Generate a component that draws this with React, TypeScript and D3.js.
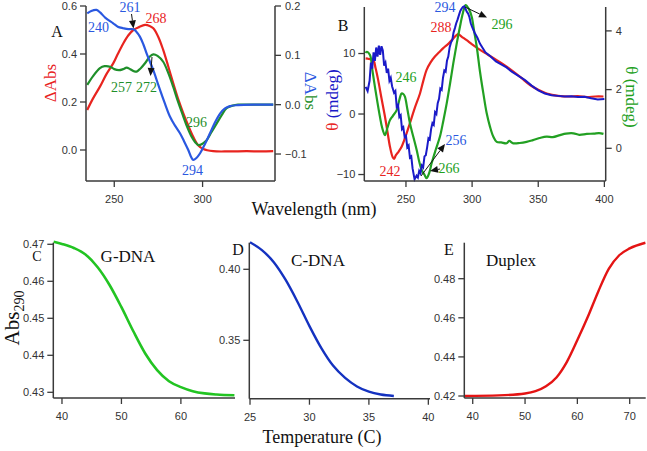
import React from "react";
import * as d3 from "d3";

// ---------- Panel A data (wavelength nm) ----------
const aRed: [number, number][] = [
  [234.7, 0.167], [238, 0.215], [241.9, 0.264], [245.5, 0.315], [249.4, 0.361], [252, 0.4],
  [255.1, 0.444], [258, 0.478], [260.8, 0.5], [264, 0.512], [267.4, 0.521], [270, 0.517],
  [272.1, 0.507], [275, 0.47], [277.7, 0.417], [280.5, 0.35], [283.4, 0.278], [286.3, 0.21],
  [289.1, 0.153], [292, 0.1], [294.7, 0.055], [297.5, 0.02], [300.4, 0.004], [306, -0.005],
  [315, -0.006], [325, -0.005], [333, -0.006], [340, -0.005],
];
const aBlue: [number, number][] = [
  [234.7, 0.185], [237, 0.19], [240, 0.192], [242, 0.187], [245, 0.176], [249.4, 0.165],
  [252, 0.158], [255.1, 0.155], [258, 0.153], [260.8, 0.153], [262.5, 0.148], [264.5, 0.138],
  [266.5, 0.122], [268.3, 0.104], [270.2, 0.087], [272.1, 0.07], [274, 0.05], [275.9, 0.03],
  [278.7, 0.002], [281.5, -0.024], [284.3, -0.042], [287.2, -0.058], [289.5, -0.074], [291.9, -0.092],
  [293.5, -0.106], [294.7, -0.112], [296.5, -0.108], [298.5, -0.099], [301.3, -0.08], [304.2, -0.058],
  [307, -0.036], [309.9, -0.018], [312.5, -0.008], [315.5, -0.003], [320, -0.001], [330, 0.0], [340, 0.0],
];
const aGreen: [number, number][] = [
  [234.7, 0.04], [238, 0.058], [241.9, 0.074], [244.5, 0.078], [247.6, 0.077], [250, 0.072],
  [252.7, 0.07], [255, 0.072], [257, 0.075], [259, 0.072], [261, 0.068], [262.7, 0.067],
  [265, 0.074], [267.4, 0.084], [270, 0.097], [272.1, 0.102], [274.5, 0.099], [277.7, 0.087],
  [280.5, 0.065], [283.4, 0.036], [286.2, 0.005], [289.1, -0.024], [291.5, -0.047], [293.8, -0.065],
  [295.8, -0.076], [297.6, -0.082], [300, -0.079], [302.3, -0.072], [305, -0.056], [308, -0.038],
  [311, -0.02], [313.6, -0.007], [317, -0.002], [320, 0.0], [330, 0.0], [340, 0.0],
];

// ---------- Panel B data ----------
const bRed: [number, number][] = [
  [219.5, 9.2], [222, 9.1], [225.3, 8.9], [227, 7.6], [229, 5.6], [231.5, 2.6], [234.1, -0.4],
  [236, -2.9], [237.9, -5.4], [239.9, -7.1], [241, -7.4], [242.4, -6.8], [244.5, -6.2],
  [246.7, -5.4], [250, -3.5], [253, -1.5], [256.5, 0.9], [260.6, 3.4], [263, 5.4], [265.6, 7.3],
  [268.5, 8.5], [271.9, 9.5], [275, 10.2], [278.2, 10.9], [282, 11.6], [285.8, 12.5],
  [288, 13.0], [289.6, 13.2], [292, 12.8], [295.9, 12.2], [300, 11.5], [306, 10.6], [312, 9.8],
  [318.6, 8.9], [325, 8.0], [331.2, 7.0], [337, 6.0], [343.8, 4.8], [350, 4.0], [356.4, 3.4],
  [365, 3.0], [374, 2.9], [380, 2.95], [387, 2.8], [393, 2.9], [399.3, 2.9],
];
const bBlue: [number, number][] = [
  [219.5, 4.5], [221, 3.8], [222.5, 5.5], [223.5, 8.5], [224.5, 7.5], [225.5, 10.2], [226.5, 8.8],
  [227.5, 11.0], [228.5, 9.5], [229.5, 11.3], [230.5, 9.8], [231.5, 11.2], [232.5, 10.5],
  [233.5, 8.0], [234.5, 8.5], [235.5, 6.8], [236.5, 7.5], [237.5, 5.5], [238.5, 6.0], [239.5, 4.6],
  [241, 3.5], [242, 3.8], [243, 1.2], [244, 1.5], [245, -0.5], [246, -0.2], [247, -2.5], [248, -2.2],
  [249, -3.8], [250, -3.6], [251, -5.5], [252, -5.2], [253, -7.2], [254, -7.0], [255, -9.0],
  [256.5, -10.8], [258, -10.2], [259, -10.5], [260, -9.4], [261, -9.8], [262, -8.5], [263, -8.8],
  [264, -7.0], [265, -6.8], [266, -5.5], [267, -4.0], [268, -4.2], [269, -2.5], [270, -1.5],
  [271, -1.8], [272, 0.3], [273, 0.0], [274, 1.8], [275, 2.5], [276, 4.2], [277, 4.0], [278, 6.0],
  [279, 7.2], [280, 7.0], [281, 8.8], [282, 9.5], [283, 11.0], [284, 11.8], [285, 12.2], [286, 13.5],
  [287, 14.2], [288, 15.0], [289, 15.6], [290, 16.3], [291, 17.0], [292, 17.4], [293, 17.7],
  [294, 17.8], [295, 17.4], [296, 16.9], [297, 16.6], [298, 16.0], [299, 15.0], [300, 14.4],
  [302, 13.4], [304, 12.6], [306, 11.6], [308, 10.9], [310, 10.2], [314, 9.5], [318, 8.7],
  [322, 8.2], [326, 7.7], [330, 7.0], [335, 6.3], [340, 5.6], [345, 4.7], [350, 3.9], [355, 3.4],
  [360, 3.1], [365, 3.0], [370, 2.9], [375, 2.95], [380, 2.8], [385, 2.85], [390, 2.6], [395, 2.4],
  [400, 2.5],
];
const bGreen: [number, number][] = [
  [219.5, 3.25], [220.3, 3.29], [222.8, 3.18], [224.5, 2.7], [226.5, 2.1], [228.5, 1.55],
  [230.3, 1.08], [232, 0.7], [234.1, 0.45], [236, 0.7], [237.9, 0.96], [240, 1.1], [243, 1.3],
  [245, 1.65], [246.7, 1.87], [248, 1.85], [249.2, 1.76], [251, 1.35], [253, 0.85], [255.5, 0.4],
  [258.1, -0.06], [260, -0.45], [261.9, -0.74], [264, -0.9], [265.6, -1.02], [267.5, -0.85],
  [269.4, -0.51], [272.5, -0.05], [275.7, 0.4], [278.3, 0.95], [280.8, 1.53], [283.3, 2.2],
  [285.8, 2.9], [288.3, 3.55], [290.8, 4.14], [293, 4.6], [295.1, 4.88], [297.5, 4.75],
  [299.7, 4.48], [301.5, 4.0], [303.5, 3.46], [306, 2.6], [308.5, 1.87], [311, 1.2],
  [313.5, 0.74], [316, 0.4], [318.6, 0.22], [322, 0.2], [326.1, 0.17], [328, 0.25], [331.2, 0.17],
  [336, 0.18], [341.2, 0.22], [346, 0.28], [351, 0.35], [356.4, 0.4], [361, 0.38], [366.5, 0.45],
  [371, 0.5], [376.6, 0.51], [381, 0.46], [386.7, 0.49], [392, 0.5], [396, 0.52], [399.3, 0.49],
];

// ---------- Melting curves (temperature C) ----------
const cGDNA: [number, number][] = [
  [38.6, 0.4707], [40, 0.4701], [42, 0.4690], [44, 0.4672], [46, 0.4638], [48, 0.4590],
  [50, 0.4530], [52, 0.4465], [54, 0.4405], [56, 0.4360], [58, 0.4330], [60, 0.4314],
  [62, 0.4303], [64, 0.4297], [66, 0.4294], [69, 0.4292],
];
const dCDNA: [number, number][] = [
  [25, 0.419], [26, 0.4135], [27, 0.4050], [28, 0.3925], [29, 0.3770], [30, 0.3600],
  [31, 0.3445], [32, 0.3320], [33, 0.3235], [34, 0.3175], [35, 0.3138], [36, 0.3118], [37.1, 0.3108],
];
const eDuplex: [number, number][] = [
  [38.5, 0.4200], [45, 0.4203], [50, 0.4213], [52, 0.4225], [54, 0.4250], [56, 0.4295],
  [58, 0.4375], [60, 0.4486], [62, 0.4605], [64, 0.4735], [66, 0.4850], [68, 0.4920],
  [70, 0.4955], [73, 0.4984],
];

// ---------- Tick values ----------
const aLeftTicks = [0.0, 0.2, 0.4, 0.6];
const aRightTicks = [-0.1, 0.0, 0.1, 0.2];
const aXTicks = [250, 300];
const bLeftTicks = [-10, 0, 10];
const bRightTicks = [0, 2, 4];
const bXTicks = [250, 300, 350, 400];
const cYTicks = [0.43, 0.44, 0.45, 0.46, 0.47];
const cXTicks = [40, 50, 60];
const dYTicks = [0.35, 0.40];
const dXTicks = [25, 30, 35, 40];
const eYTicks = [0.42, 0.44, 0.46, 0.48];
const eXTicks = [40, 50, 60, 70];

const AX = "#3a3a3a";
const TICKF = "'Liberation Sans', Arial, sans-serif";
const SERIF = "'Liberation Serif', 'Times New Roman', serif";
const RED = "#e8241f";
const BLUE_A = "#2a58e0";
const GREEN_A = "#1f8f2a";
const BLUE_B = "#1a1ac8";
const GREEN_B = "#22a022";

type S = d3.ScaleLinear<number, number>;

function LeftAxis({ x, y, ticks, fmt }: { x: number; y: S; ticks: number[]; fmt: (v: number) => string }) {
  const [r0, r1] = y.range();
  return (
    <g>
      <line x1={x} x2={x} y1={r0} y2={r1} stroke={AX} strokeWidth={1.5} />
      {ticks.map((t) => (
        <g key={t}>
          <line x1={x - 6} x2={x} y1={y(t)} y2={y(t)} stroke={AX} strokeWidth={1.3} />
          <text x={x - 9} y={y(t)} dy="0.35em" textAnchor="end" fontSize={11} fontFamily={TICKF} fill="#333">
            {fmt(t)}
          </text>
        </g>
      ))}
    </g>
  );
}
function RightAxis({ x, y, ticks, fmt }: { x: number; y: S; ticks: number[]; fmt: (v: number) => string }) {
  const [r0, r1] = y.range();
  return (
    <g>
      <line x1={x} x2={x} y1={r0} y2={r1} stroke={AX} strokeWidth={1.5} />
      {ticks.map((t) => (
        <g key={t}>
          <line x1={x} x2={x + 6} y1={y(t)} y2={y(t)} stroke={AX} strokeWidth={1.3} />
          <text x={x + 10} y={y(t)} dy="0.35em" textAnchor="start" fontSize={11} fontFamily={TICKF} fill="#333">
            {fmt(t)}
          </text>
        </g>
      ))}
    </g>
  );
}
function BottomAxis({ y, x, ticks }: { y: number; x: S; ticks: number[] }) {
  const [r0, r1] = x.range();
  return (
    <g>
      <line x1={r0} x2={r1} y1={y} y2={y} stroke={AX} strokeWidth={1.5} />
      {ticks.map((t) => (
        <g key={t}>
          <line x1={x(t)} x2={x(t)} y1={y} y2={y + 6} stroke={AX} strokeWidth={1.3} />
          <text x={x(t)} y={y + 18} dy="0.35em" textAnchor="middle" fontSize={11} fontFamily={TICKF} fill="#333">
            {t}
          </text>
        </g>
      ))}
    </g>
  );
}

function path(data: [number, number][], x: S, y: S, curve: d3.CurveFactory = d3.curveCatmullRom) {
  return d3
    .line<[number, number]>()
    .x((d) => x(d[0]))
    .y((d) => y(d[1]))
    .curve(curve)(data) || "";
}

function Arrow({ x1, y1, x2, y2 }: { x1: number; y1: number; x2: number; y2: number }) {
  const ang = Math.atan2(y2 - y1, x2 - x1);
  const L = 8, W = 3.5;
  const bx = x2 - L * Math.cos(ang), by = y2 - L * Math.sin(ang);
  const px = -Math.sin(ang) * W, py = Math.cos(ang) * W;
  return (
    <g>
      <line x1={x1} y1={y1} x2={bx} y2={by} stroke="#111" strokeWidth={1} />
      <polygon points={`${x2},${y2} ${bx + px},${by + py} ${bx - px},${by - py}`} fill="#111" />
    </g>
  );
}

function Ann({ x, y, c, t }: { x: number; y: number; c: string; t: string }) {
  return (
    <text x={x} y={y} dy="0.35em" textAnchor="middle" fontSize={14} fontFamily={SERIF} fill={c}>
      {t}
    </text>
  );
}

export default function App() {
  const fmt1 = d3.format(".1f");
  const fmt2 = d3.format(".2f");
  const fmt0 = d3.format("d");

  // Panel A
  const axA = d3.scaleLinear().domain([234, 341]).range([86, 275]);
  const ayL = d3.scaleLinear().domain([-0.1292, 0.6]).range([181, 6]);
  const ayR = d3.scaleLinear().domain([-0.1547, 0.2]).range([181, 6]);
  // Panel B
  const bx = d3.scaleLinear().domain([218.5, 401]).range([364.3, 605.7]);
  const byL = d3.scaleLinear().domain([-11.07, 17.69]).range([181, 7]);
  const byR = d3.scaleLinear().domain([-1.114, 4.814]).range([181, 7]);
  // Panel C
  const cx = d3.scaleLinear().domain([38.54, 69.1]).range([53.3, 235]);
  const cy = d3.scaleLinear().domain([0.42846, 0.47043]).range([398, 242.7]);
  // Panel D
  const dx = d3.scaleLinear().domain([24.94, 40.14]).range([249.3, 430]);
  const dy = d3.scaleLinear().domain([0.30887, 0.41873]).range([398.7, 242.7]);
  // Panel E
  const ex = d3.scaleLinear().domain([38.39, 73.06]).range([464.3, 645.7]);
  const ey = d3.scaleLinear().domain([0.41898, 0.49841]).range([398, 242.7]);

  return (
    <svg width={647} height={451} style={{ position: "absolute", left: 0, top: 0, background: "#fff" }}>
      <rect width={647} height={451} fill="#fff" />

      {/* ===== Panel A ===== */}
      <path d={path(aRed, axA, ayL)} fill="none" stroke={RED} strokeWidth={2.2} />
      <path d={path(aGreen, axA, ayR)} fill="none" stroke={GREEN_A} strokeWidth={2.2} />
      <path d={path(aBlue, axA, ayR)} fill="none" stroke={BLUE_A} strokeWidth={2.2} />
      <LeftAxis x={86} y={ayL} ticks={aLeftTicks} fmt={fmt1} />
      <RightAxis x={275} y={ayR} ticks={aRightTicks} fmt={fmt1} />
      <BottomAxis y={181} x={axA} ticks={aXTicks} />
      <text x={57} y={31} dy="0.35em" textAnchor="middle" fontSize={16} fontFamily={SERIF} fill="#111">A</text>
      <text transform="translate(56,83) rotate(-90)" textAnchor="middle" fontSize={17} fontFamily={SERIF} fill={RED}>ΔAbs</text>
      <text transform="translate(305,91) rotate(90)" textAnchor="middle" fontSize={17} fontFamily={SERIF}>
        <tspan fill={BLUE_A}>ΔA</tspan>
        <tspan fill={GREEN_A}>bs</tspan>
      </text>
      <Ann x={130} y={7} c={BLUE_A} t="261" />
      <Ann x={98.5} y={27.5} c={BLUE_A} t="240" />
      <Ann x={156} y={18.5} c={RED} t="268" />
      <Ann x={121.5} y={87.5} c={GREEN_A} t="257" />
      <Ann x={146.5} y={87.5} c={GREEN_A} t="272" />
      <Ann x={196.5} y={122.5} c={GREEN_A} t="296" />
      <Ann x={192.5} y={170.5} c={BLUE_A} t="294" />
      <Arrow x1={131.5} y1={14} x2={133.5} y2={28.5} />
      <Arrow x1={152} y1={57} x2={150.5} y2={76} />

      {/* ===== Panel B ===== */}
      <path d={path(bRed, bx, byL)} fill="none" stroke={RED} strokeWidth={2.2} />
      <path d={path(bGreen, bx, byR)} fill="none" stroke={GREEN_B} strokeWidth={2.2} />
      <path d={path(bBlue, bx, byL, d3.curveLinear)} fill="none" stroke={BLUE_B} strokeWidth={2} />
      <LeftAxis x={364.3} y={byL} ticks={bLeftTicks} fmt={fmt0} />
      <RightAxis x={605.7} y={byR} ticks={bRightTicks} fmt={fmt0} />
      <BottomAxis y={181} x={bx} ticks={bXTicks} />
      <text x={343} y={25} dy="0.35em" textAnchor="middle" fontSize={16} fontFamily={SERIF} fill="#111">B</text>
      <text transform="translate(338,100) rotate(-90)" textAnchor="middle" fontSize={17} fontFamily={SERIF}>
        <tspan fill={RED}>θ</tspan>
        <tspan fill={BLUE_B}>{" (mdeg)"}</tspan>
      </text>
      <text transform="translate(626,97) rotate(90)" textAnchor="middle" fontSize={17} fontFamily={SERIF} fill={GREEN_B}>θ (mdeg)</text>
      <Ann x={445} y={7} c={BLUE_A} t="294" />
      <Ann x={502} y={24} c={GREEN_B} t="296" />
      <Ann x={441} y={27} c={RED} t="288" />
      <Ann x={406} y={77} c={GREEN_B} t="246" />
      <Ann x={390} y={171} c={RED} t="242" />
      <Ann x={456} y={140} c={BLUE_A} t="256" />
      <Ann x={449} y={168.5} c={GREEN_B} t="266" />
      <Arrow x1={465} y1={7} x2={487} y2={17.5} />
      <Arrow x1={421} y1={176} x2={445} y2={144} />
      <Arrow x1={440} y1={169} x2={430} y2={171} />

      <text x={314} y={215} textAnchor="middle" fontSize={18} fontWeight="normal" fontFamily={SERIF} fill="#111">Wavelength (nm)</text>

      {/* ===== Panel C ===== */}
      <path d={path(cGDNA, cx, cy, d3.curveMonotoneX)} fill="none" stroke="#22c422" strokeWidth={2.6} />
      <LeftAxis x={53.3} y={cy} ticks={cYTicks} fmt={fmt2} />
      <BottomAxis y={398} x={cx} ticks={cXTicks} />
      <text x={37} y={256} dy="0.35em" textAnchor="middle" fontSize={14} fontFamily={SERIF} fill="#111">C</text>
      <text x={128} y={256} dy="0.35em" textAnchor="middle" fontSize={17} fontFamily={SERIF} fill="#111">G-DNA</text>
      <text transform="translate(19,318) rotate(-90)" textAnchor="middle" fontSize={21} fontFamily={SERIF} fill="#111">
        Abs<tspan fontSize={14} dy={5}>290</tspan>
      </text>

      {/* ===== Panel D ===== */}
      <path d={path(dCDNA, dx, dy, d3.curveMonotoneX)} fill="none" stroke="#1432c0" strokeWidth={2.4} />
      <LeftAxis x={249.3} y={dy} ticks={dYTicks} fmt={fmt2} />
      <BottomAxis y={398.7} x={dx} ticks={dXTicks} />
      <text x={238} y={249} dy="0.35em" textAnchor="middle" fontSize={16} fontFamily={SERIF} fill="#111">D</text>
      <text x={318} y={260} dy="0.35em" textAnchor="middle" fontSize={17} fontFamily={SERIF} fill="#111">C-DNA</text>

      {/* ===== Panel E ===== */}
      <path d={path(eDuplex, ex, ey, d3.curveMonotoneX)} fill="none" stroke="#e41414" strokeWidth={2.4} />
      <LeftAxis x={464.3} y={ey} ticks={eYTicks} fmt={fmt2} />
      <BottomAxis y={398} x={ex} ticks={eXTicks} />
      <text x={449} y={249} dy="0.35em" textAnchor="middle" fontSize={16} fontFamily={SERIF} fill="#111">E</text>
      <text x={511} y={260} dy="0.35em" textAnchor="middle" fontSize={17} fontFamily={SERIF} fill="#111">Duplex</text>

      <text x={322} y={443} textAnchor="middle" fontSize={18} fontFamily={SERIF} fill="#111">Temperature (C)</text>
    </svg>
  );
}
